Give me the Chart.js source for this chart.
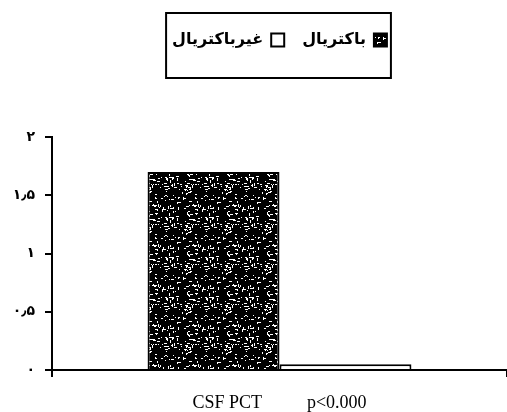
<!DOCTYPE html>
<html><head><meta charset="utf-8">
<script src="https://cdn.jsdelivr.net/npm/chart.js@4.4.0/dist/chart.umd.min.js"></script>
<style>html,body{margin:0;padding:0;background:#fff}#wrap{width:507px;height:412px}</style>
</head><body><div id="wrap"><canvas id="c" width="507" height="412"></canvas></div>
<script>
const categories = ['CSF PCT          p<0.000'];
const seriesNames = ['باکتریال', 'غیرباکتریال'];
const bacterialValues = [1.70];
const nonBacterialValues = [0.05];
const yTickValues = [0, 0.5, 1, 1.5, 2];
const yTickLabels = ['۰', '۰٫۵', '۱', '۱٫۵', '۲'];

function makeStipple() {
  const size = 40;
  const c = document.createElement('canvas');
  c.width = size; c.height = size;
  const g = c.getContext('2d');
  g.fillStyle = '#000'; g.fillRect(0, 0, size, size);
  g.fillStyle = '#fff';
  let s = 987654321;
  const r = () => { s = (Math.imul(s, 1103515245) + 12345) >>> 0; return s / 4294967296; };
  for (let i = 0; i < 120; i++) {
    const x = Math.floor(r() * size), y = Math.floor(r() * size);
    const horiz = r() < 0.5, len = 1 + Math.floor(r() * 3);
    g.fillRect(x, y, horiz ? len : 1, horiz ? 1 : len);
  }
  return g.createPattern(c, 'repeat');
}
const stipple = makeStipple();

const legendFix = {
  id: 'legendFix',
  beforeLayout(chart) {
    const lg = chart.legend;
    if (lg && !lg._fixed) {
      const orig = lg.fit;
      lg.fit = function () { orig.call(this); this.height = 123; };
      lg._fixed = true;
    }
  },
  afterDraw(chart) {
    const lg = chart.legend;
    if (!lg || !lg.legendHitBoxes || !lg.legendHitBoxes.length) return;
    const hb = lg.legendHitBoxes;
    let minL = Infinity, maxR = -Infinity, top = Infinity;
    hb.forEach(b => { minL = Math.min(minL, b.left); maxR = Math.max(maxR, b.left + b.width); top = Math.min(top, b.top); });
    const ctx = chart.ctx;
    ctx.save();
    ctx.strokeStyle = '#000';
    ctx.lineWidth = 2;
    ctx.strokeRect(minL - 6, top - 19, (maxR + 4) - (minL - 6), 65);
    ctx.restore();
  }
};

new Chart(document.getElementById('c'), {
  type: 'bar',
  data: {
    labels: categories,
    datasets: [
      { label: seriesNames[0], data: bacterialValues, backgroundColor: stipple, borderColor: '#000', borderWidth: 2 },
      { label: seriesNames[1], data: nonBacterialValues, backgroundColor: '#fff', borderColor: '#000', borderWidth: 2 }
    ]
  },
  options: {
    responsive: false,
    animation: false,
    devicePixelRatio: 1,
    layout: { padding: { top: 14, left: 0, right: 0, bottom: 0 } },
    datasets: { bar: { categoryPercentage: 0.58, barPercentage: 1.0 } },
    plugins: {
      legend: {
        position: 'top',
        fullSize: false,
        rtl: true,
        labels: {
          color: '#000',
          boxWidth: 13, boxHeight: 13,
          padding: 18,
          font: { family: 'DejaVu Sans', size: 16, weight: 'bold' }
        }
      },
      tooltip: { enabled: false },
      title: { display: false }
    },
    scales: {
      x: {
        afterFit(scale) { scale.height = 42; },
        border: { display: true, color: '#000', width: 2 },
        grid: { display: true, drawOnChartArea: false, drawTicks: true, tickLength: 7, color: '#000', lineWidth: 2, offset: true },
        ticks: { color: '#000', padding: 15, font: { family: 'Liberation Serif', size: 18 } }
      },
      y: {
        min: 0, max: 2,
        afterFit(scale) { scale.width = 52; },
        afterBuildTicks(scale) { scale.ticks = yTickValues.map(v => ({ value: v })); },
        border: { display: true, color: '#000', width: 2 },
        grid: { display: true, drawOnChartArea: false, drawTicks: true, tickLength: 7, color: '#000', lineWidth: 2 },
        ticks: {
          color: '#000', padding: 10,
          font: { family: 'DejaVu Sans', size: 14, weight: 'bold' },
          callback(value) { const i = yTickValues.indexOf(value); return i >= 0 ? yTickLabels[i] : ''; }
        }
      }
    }
  },
  plugins: [legendFix]
});
</script>
</body></html>
